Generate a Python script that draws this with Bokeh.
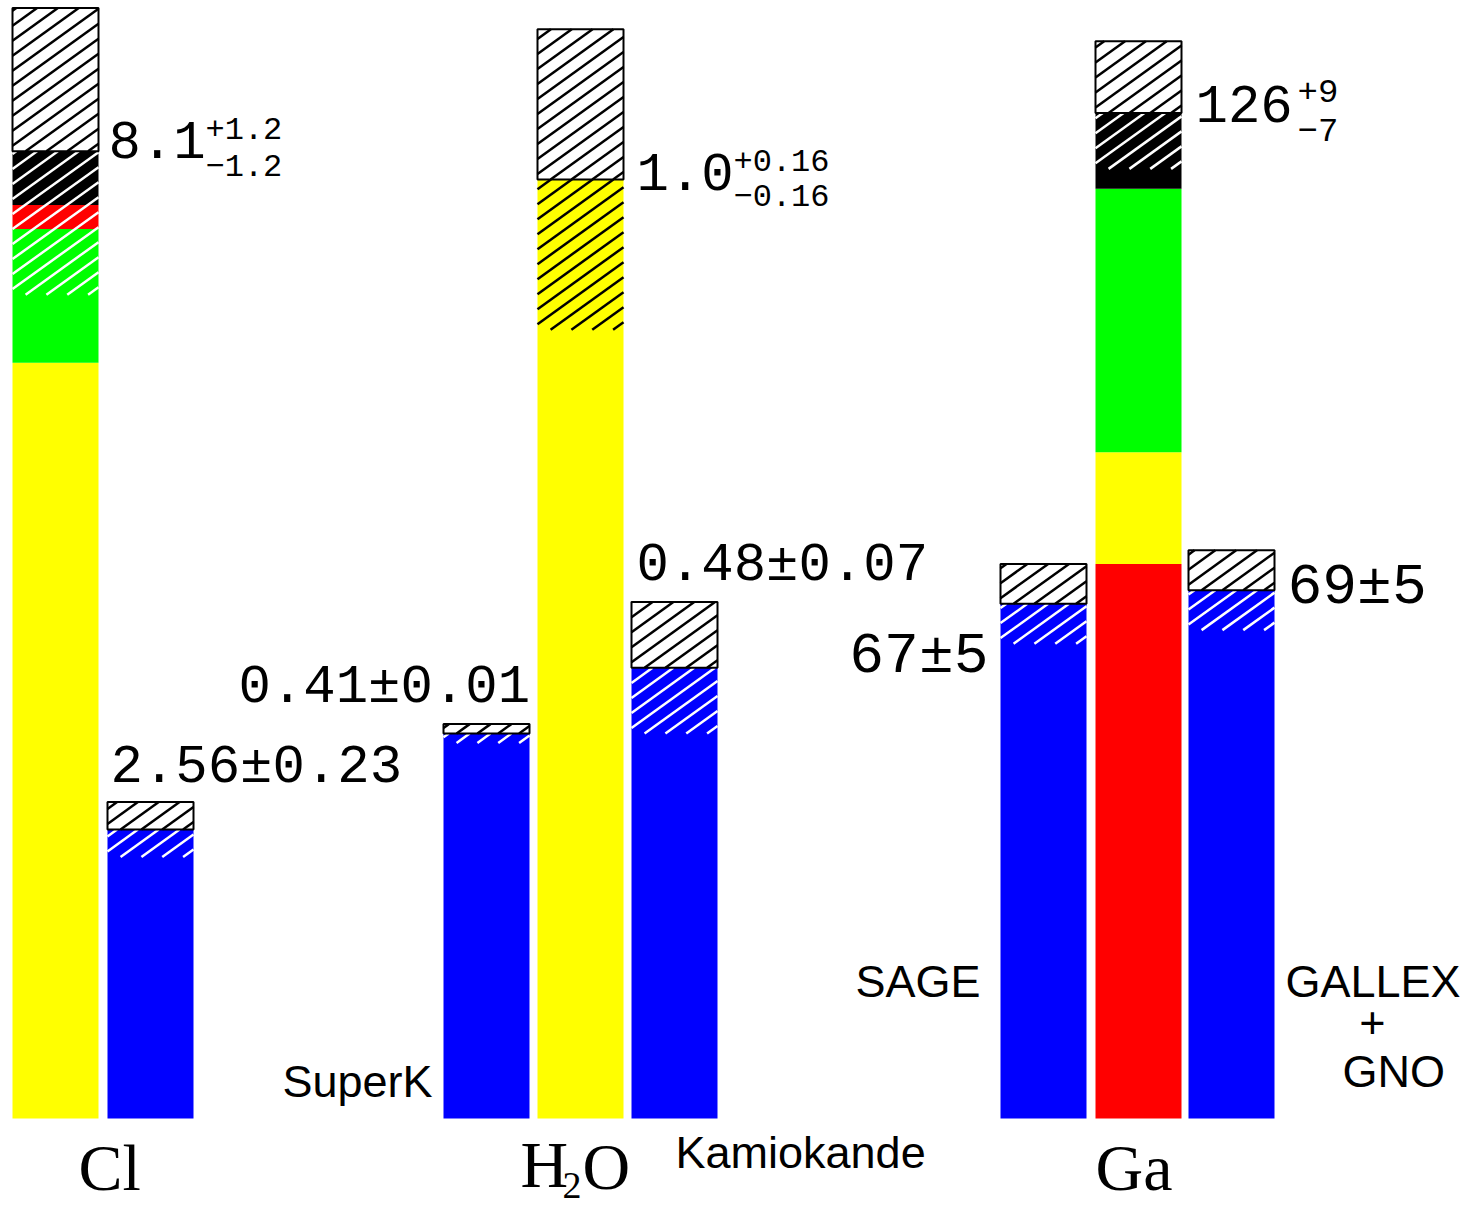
from bokeh.plotting import figure
from bokeh.models import Range1d
from bokeh.core.properties import value
from bokeh.embed import file_html
from bokeh.resources import INLINE

# ---------------- data ----------------
# Predicted rates, stacked components bottom -> top
cl_pred_colors = ["#FFFF00", "#00FF00", "#FF0000", "#000000"]
cl_pred_parts = [6.33, 1.12, 0.20, 0.45]          # SNU, total 8.1
cl_pred_total = 8.1
cl_pred_err = [1.2, 1.2]                           # +, -

h2o_pred_colors = ["#FFFF00"]
h2o_pred_parts = [1.0]                             # ratio to SSM
h2o_pred_total = 1.0
h2o_pred_err = [0.16, 0.16]

ga_pred_colors = ["#FF0000", "#FFFF00", "#00FF00", "#000000"]
ga_pred_parts = [69.5, 14.0, 33.0, 9.5]            # SNU, total 126
ga_pred_total = 126
ga_pred_err = [9, 7]

# Measured rates (as drawn) and their errors
exp_names = ["Homestake", "SuperK", "Kamiokande", "SAGE", "GALLEX+GNO"]
exp_values = [2.42, 0.41, 0.48, 64.5, 66.2]
exp_errors = [0.23, 0.01, 0.07, 5, 5]

# Label texts
pred_main = ["8.1", "1.0", "126"]
pred_up = ["+1.2", "+0.16", "+9"]
pred_dn = ["\u22121.2", "\u22120.16", "\u22127"]
exp_labels = ["2.56\u00b10.23", "0.41\u00b10.01", "0.48\u00b10.07", "67\u00b15", "69\u00b15"]

# ---------------- layout ----------------
W, H = 1464, 1208
BASE = 1118            # baseline pixel row
SCALES = {"default": 119.4, "h2o": 939.0, "ga": 7.98}   # px per unit

def rng(s):
    return Range1d(-(H - BASE) / s, BASE / s)

p = figure(width=W, height=H, x_range=Range1d(0, W), y_range=rng(SCALES["default"]),
           output_backend="svg", toolbar_location=None, min_border=0,
           x_axis_type=None, y_axis_type=None, outline_line_color=None,
           background_fill_color="white", border_fill_color="white")
p.extra_y_ranges = {"h2o": rng(SCALES["h2o"]), "ga": rng(SCALES["ga"])}

BW = 86
left = {"cl_pred": 12, "cl_obs": 107, "superk": 443, "h2o_pred": 537,
        "kam": 631, "sage": 1000, "ga_pred": 1095, "gallex": 1188}

SLOPE = 0.72     # hatch line slope (screen)
GAP = 15         # vertical spacing of hatch lines, px
HW = 2.5

def kw(r):
    return {} if r == "default" else {"y_range_name": r}

def stack(key, parts, colors, r):
    lo = 0.0
    bots, tops = [], []
    for v in parts:
        bots.append(lo)
        lo += v
        tops.append(lo)
    x0 = left[key]
    p.quad(left=[x0] * len(parts), right=[x0 + BW] * len(parts), bottom=bots, top=tops,
           fill_color=colors, line_color=None, **kw(r))

def hatch(key, bot, top, r, color):
    s = SCALES[r]
    x0 = left[key]
    h = (top - bot) * s
    xa_l, ya_l, xb_l, yb_l = [], [], [], []
    c = -SLOPE * BW + (GAP * 0.5)
    while c < h:
        xa = max(0.0, -c / SLOPE)
        xb = min(float(BW), (h - c) / SLOPE)
        if xb > xa:
            xa_l.append(x0 + xa)
            ya_l.append(bot + (c + SLOPE * xa) / s)
            xb_l.append(x0 + xb)
            yb_l.append(bot + (c + SLOPE * xb) / s)
        c += GAP
    p.segment(x0=xa_l, y0=ya_l, x1=xb_l, y1=yb_l, line_color=color, line_width=HW,
              line_cap="butt", **kw(r))

def errbox(key, center, up, dn, r, hatch_below="white"):
    x0 = left[key]
    hatch(key, center - dn, center, r, hatch_below)
    p.quad(left=[x0], right=[x0 + BW], bottom=[center], top=[center + up],
           fill_color="white", line_color=None, **kw(r))
    hatch(key, center, center + up, r, "black")
    p.quad(left=[x0], right=[x0 + BW], bottom=[center], top=[center + up],
           fill_color=None, line_color="black", line_width=2, **kw(r))

# predictions
stack("cl_pred", cl_pred_parts, cl_pred_colors, "default")
errbox("cl_pred", cl_pred_total, cl_pred_err[0], cl_pred_err[1], "default")
stack("h2o_pred", h2o_pred_parts, h2o_pred_colors, "h2o")
errbox("h2o_pred", h2o_pred_total, h2o_pred_err[0], h2o_pred_err[1], "h2o", hatch_below="black")
stack("ga_pred", ga_pred_parts, ga_pred_colors, "ga")
errbox("ga_pred", ga_pred_total, ga_pred_err[0], ga_pred_err[1], "ga")

# measurements
exp_keys = ["cl_obs", "superk", "kam", "sage", "gallex"]
exp_rng = ["default", "h2o", "h2o", "ga", "ga"]
for k, v, e, r in zip(exp_keys, exp_values, exp_errors, exp_rng):
    stack(k, [v], ["#0000FF"], r)
    errbox(k, v, e, e, r)

# ---------------- texts ----------------
MONO = "Liberation Mono"
SANS = "Liberation Sans"
SERIF = "Liberation Serif"

def txt(x, y, s, font, size, r="default", align="left", yoff=0):
    p.text(x=[x], y=[y], text=[s], text_font=value(font), text_font_size=value(size),
           text_align=align, text_baseline="alphabetic", y_offset=yoff,
           text_color="black", **kw(r))

# prediction labels
txt(108, cl_pred_total, pred_main[0], MONO, "54px", yoff=-11)
txt(205, cl_pred_total, pred_up[0], MONO, "32px", yoff=-23)
txt(205, cl_pred_total, pred_dn[0], MONO, "32px", yoff=14)
txt(636, h2o_pred_total, pred_main[1], MONO, "54px", "h2o", yoff=-8)
txt(733, h2o_pred_total, pred_up[1], MONO, "32px", "h2o", yoff=-19)
txt(733, h2o_pred_total, pred_dn[1], MONO, "32px", "h2o", yoff=16)
txt(1195, ga_pred_total, pred_main[2], MONO, "54px", "ga", yoff=-9)
txt(1297, ga_pred_total, pred_up[2], MONO, "34px", "ga", yoff=-22)
txt(1297, ga_pred_total, pred_dn[2], MONO, "34px", "ga", yoff=17)

# measurement labels
txt(110, exp_values[0] + exp_errors[0], exp_labels[0], MONO, "54px", yoff=-35)
txt(238, exp_values[1] + exp_errors[1], exp_labels[1], MONO, "54px", "h2o", yoff=-37)
txt(636, exp_values[2] + exp_errors[2], exp_labels[2], MONO, "54px", "h2o", yoff=-37)
txt(988, exp_values[3], exp_labels[3], MONO, "58px", "ga", align="right", yoff=53)
txt(1287, exp_values[4], exp_labels[4], MONO, "58px", "ga", yoff=-3)

# experiment names
txt(432, 0, "SuperK", SANS, "45px", align="right", yoff=-37)
txt(675, 0, "Kamiokande", SANS, "45px", yoff=34)
txt(980, 0, "SAGE", SANS, "45px", align="right", yoff=-137)
txt(1285, 0, "GALLEX", SANS, "45px", yoff=-137)
txt(1372, 0, "+", SANS, "45px", align="center", yoff=-96)
txt(1342, 0, "GNO", SANS, "45px", yoff=-47)

# target labels
txt(78, 0, "Cl", SERIF, "66px", yoff=49)
txt(520, 0, "H", SERIF, "66px", yoff=46)
txt(562, 0, "2", SERIF, "38px", yoff=67)
txt(582, 0, "O", SERIF, "66px", yoff=48)
txt(1095, 0, "Ga", SERIF, "66px", yoff=49)

open("out.html", "w").write(file_html(p, INLINE))
